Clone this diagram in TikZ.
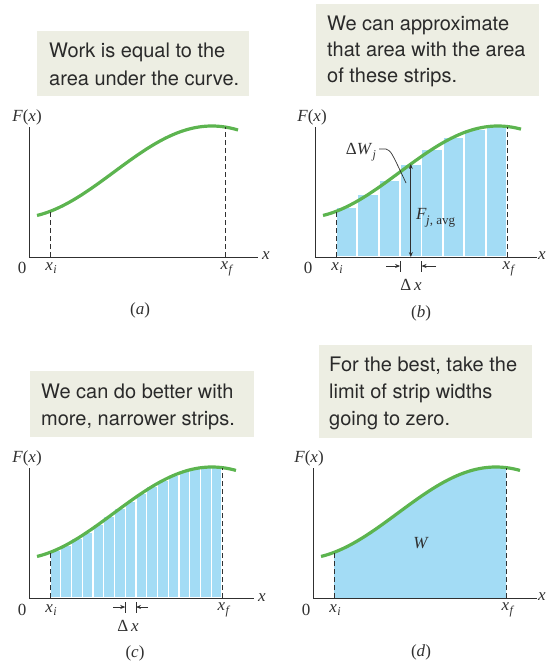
\documentclass[tikz,border=0pt]{standalone}
\usepackage{fontspec}
\setmainfont{Liberation Serif}
\newfontfamily\hv{TeX Gyre Heros}
\usetikzlibrary{arrows.meta}
\definecolor{crv}{HTML}{5CB44F}
\definecolor{stripc}{HTML}{A3DCF5}
\definecolor{boxbg}{HTML}{EDEEE3}
\definecolor{txt}{HTML}{2A2A2A}
\definecolor{axc}{HTML}{303030}
\newcommand{\xsub}[1]{\textit{x}\kern0.3pt\raisebox{-3.5pt}{\fontsize{12}{12}\selectfont\textit{#1}}}
\begin{document}
\begin{tikzpicture}[x=1pt,y=-1pt,
  declare function={fh(\u)=85+46*sin(0.92*(\u-85));},
  curve/.style={crv,line width=3.2pt},
  axisln/.style={axc,line width=0.9pt},
  dashln/.style={axc,line width=0.9pt,dash pattern=on 5pt off 3pt},
  tbox/.style={fill=boxbg},
  tline/.style={font=\hv\fontsize{20}{24}\selectfont,text=txt,anchor=base west,inner sep=0pt},
  lab/.style={font=\fontsize{17}{20}\selectfont,text=axc,inner sep=0pt},
  stripst/.style={fill=stripc,draw=white},
  dimarrow/.style={axc,line width=0.7pt,-{Stealth[length=5pt,width=4pt]}},
  vtick/.style={axc,line width=0.7pt}
]
\useasboundingbox (0,0) rectangle (548,664);

% ---------- text boxes ----------
\fill[tbox] (37,31) rectangle (249,96);
\node[tline] (ta1) at (49,57) {Work is equal to the};
\node[tline] (ta2) at (49,85) {area under the curve.};

\fill[tbox] (316,4) rectangle (539,96);
\node[tline] (tb1) at (327,30.5) {We can approximate};
\node[tline] (tb2) at (327,56.5) {that area with the area};
\node[tline] (tb3) at (327,82.5) {of these strips.};

\fill[tbox] (30,371) rectangle (254,437);
\node[tline] (tc1) at (41,398) {We can do better with};
\node[tline] (tc2) at (41,425) {more, narrower strips.};

\fill[tbox] (319,345) rectangle (532,438);
\node[tline] (td1) at (329,371.5) {For the best, take the};
\node[tline] (td2) at (329,398.3) {limit of strip widths};
\node[tline] (td3) at (329,425) {going to zero.};

% ---------- panel (a) ----------
\begin{scope}[shift={(29,257)}]
  \draw[curve] plot[domain=8:209,samples=80] (\x,{-fh(\x)});
  \draw[dashln] (21,0) -- (21,{-fh(21)});
  \draw[dashln] (196,0) -- (196,{-fh(196)});
  \draw[axisln] (0,-130) -- (0,0) -- (229,0);
  \node[lab] (aF) at (-2,-140) {\textit{F}(\textit{x})};
  \node[lab] (a0) at (-7,11) {0};
  \node[lab] (axi) at (22,11) {\xsub{i}};
  \node[lab] (axf) at (198,12) {\xsub{f}};
  \node[lab] (ax) at (237,-1) {\textit{x}};
  \node[lab] (acap) at (111,53) {(\textit{a})};
\end{scope}

% ---------- panel (b) ----------
\begin{scope}[shift={(315,257)}]
  \foreach \k in {0,...,7}{
    \pgfmathsetmacro\lft{21+\k*21.375}
    \pgfmathsetmacro\tp{fh(\lft+10.6875)}
    \filldraw[stripst,line width=1.8pt] (\lft,0) rectangle ({\lft+21.375},-\tp);
  }
  \draw[curve] plot[domain=8:206,samples=80] (\x,{-fh(\x)});
  \draw[dashln] (21,0) -- (21,{-fh(21)});
  \draw[dashln] (192,0) -- (192,{-fh(192)});
  \draw[axisln] (0,-130) -- (0,0) -- (222,0);
  \coordinate (bvb) at (95.8,0);
  \coordinate (bvt) at (95.8,{-fh(95.8)});
  \draw[axc,line width=0.7pt,{Stealth[length=5pt,width=4pt]}-{Stealth[length=5pt,width=4pt]}] (bvb) -- (bvt);
  \node[lab,anchor=west] (bFj) at (101,-39) {\textit{F}\kern-0.5pt\raisebox{-4.5pt}{\fontsize{13}{13}\selectfont\textit{j}, avg}};
  \node[lab] (bdW) at (46,-105) {Δ\textit{W}\kern0.3pt\raisebox{-4pt}{\fontsize{12}{12}\selectfont\textit{j}}};
  \coordinate (bl1) at (64,-108);
  \coordinate (bl2) at (91,-74);
  \draw[axc,line width=0.7pt] (bl1) -- (71,-108) .. controls (76,-106) .. (bl2);
  % delta x
  \coordinate (bs1) at (85.1,9);
  \coordinate (bs2) at (106.5,9);
  \coordinate (ba1) at (71,9);
  \coordinate (ba2) at (121,9);
  \draw[dimarrow] (ba1) -- (bs1);
  \draw[dimarrow] (ba2) -- (bs2);
  \draw[vtick] (85.1,4) -- (85.1,15);
  \draw[vtick] (106.5,4) -- (106.5,15);
  \node[lab] (bdx) at (96,28) {Δ\,\textit{x}};
  \node[lab] (b0) at (-7,11) {0};
  \node[lab] (bxi) at (22,11) {\xsub{i}};
  \node[lab] (bxf) at (194,12) {\xsub{f}};
  \node[lab] (bx) at (227,-1) {\textit{x}};
  \node[lab] (bF) at (-3,-140) {\textit{F}(\textit{x})};
  \node[lab] (bcap) at (106,56) {(\textit{b})};
\end{scope}

% ---------- panel (c) ----------
\begin{scope}[shift={(29,598)}]
  \foreach \k in {0,...,15}{
    \pgfmathsetmacro\lft{21+\k*10.75}
    \pgfmathsetmacro\tp{fh(\lft+5.375)}
    \filldraw[stripst,line width=1.3pt] (\lft,0) rectangle ({\lft+10.75},-\tp);
  }
  \draw[curve] plot[domain=8:207,samples=80] (\x,{-fh(\x)});
  \draw[dashln] (21,0) -- (21,{-fh(21)});
  \draw[dashln] (193,0) -- (193,{-fh(193)});
  \draw[axisln] (0,-130) -- (0,0) -- (225,0);
  \coordinate (cs1) at (96.25,9);
  \coordinate (cs2) at (107,9);
  \coordinate (ca1) at (84,9);
  \coordinate (ca2) at (119,9);
  \draw[dimarrow] (ca1) -- (cs1);
  \draw[dimarrow] (ca2) -- (cs2);
  \draw[vtick] (96.25,4) -- (96.25,15);
  \draw[vtick] (107,4) -- (107,15);
  \node[lab] (cdx) at (99,28) {Δ\,\textit{x}};
  \node[lab] (c0) at (-7,12) {0};
  \node[lab] (cxi) at (22,12) {\xsub{i}};
  \node[lab] (cxf) at (195,12) {\xsub{f}};
  \node[lab] (cx) at (233,0) {\textit{x}};
  \node[lab] (cF) at (-2,-140) {\textit{F}(\textit{x})};
  \node[lab] (ccap) at (106,55) {(\textit{c})};
\end{scope}

% ---------- panel (d) ----------
\begin{scope}[shift={(313,598)}]
  \fill[stripc] (21,0) -- plot[domain=21:193,samples=60] (\x,{-fh(\x)}) -- (193,0) -- cycle;
  \draw[curve] plot[domain=8:207,samples=80] (\x,{-fh(\x)});
  \draw[dashln] (21,0) -- (21,{-fh(21)});
  \draw[dashln] (193,0) -- (193,{-fh(193)});
  \draw[axisln] (0,-130) -- (0,0) -- (224,0);
  \node[lab] (dW) at (108,-55) {\textit{W}};
  \node[lab] (d0) at (-7,12) {0};
  \node[lab] (dxi) at (22,12) {\xsub{i}};
  \node[lab] (dxf) at (195,12) {\xsub{f}};
  \node[lab] (dx) at (229,-1) {\textit{x}};
  \node[lab] (dF) at (-4,-140) {\textit{F}(\textit{x})};
  \node[lab] (dcap) at (108,54) {(\textit{d})};
\end{scope}
\end{tikzpicture}
\end{document}
